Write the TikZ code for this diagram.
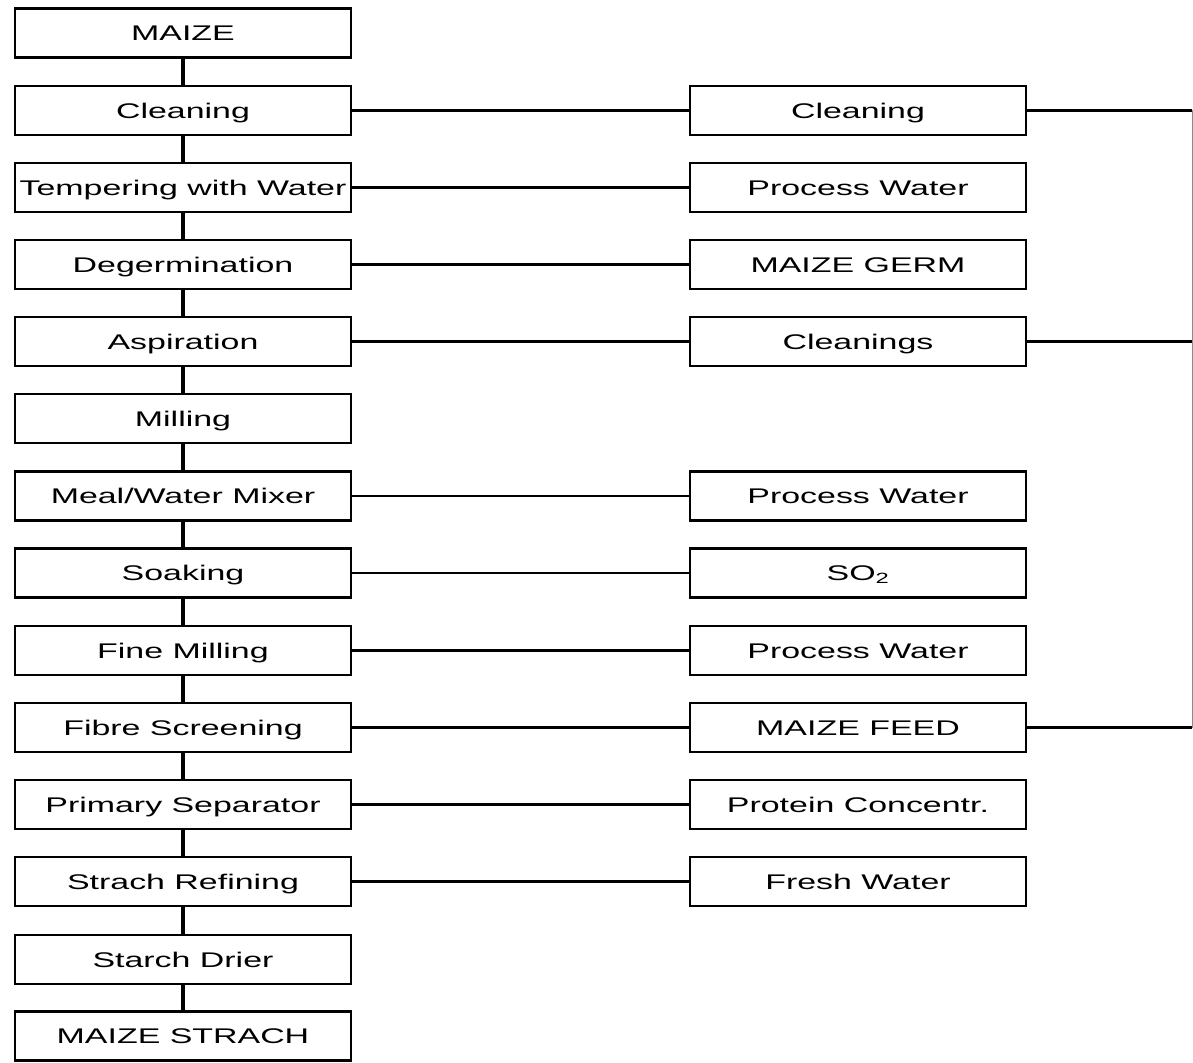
\documentclass[tikz,border=0pt]{standalone}
\usepackage{fontspec}
\setmainfont{Liberation Sans}[FakeStretch=1.6]
\begin{document}
\begin{tikzpicture}[x=1pt,y=-1pt,
  box/.style={draw, line width=2.5pt, minimum width=336pt, minimum height=49pt,
    inner sep=0pt, text height=15pt, text depth=0pt,
    font=\fontsize{21.2}{25}\selectfont, fill=white},
  flow/.style={line width=4.5pt},
  side/.style={line width=2.2pt},
  bracket/.style={line width=1pt, draw=black!45}]
\useasboundingbox (0,0) rectangle (1193,1062);
% left column
\node[box] (l1)  at (183,33)    {MAIZE};
\node[box] (l2)  at (183,110.5) {Cleaning};
\node[box] (l3)  at (183,187.5) {Tempering with Water};
\node[box] (l4)  at (183,264.5) {Degermination};
\node[box] (l5)  at (183,341.5) {Aspiration};
\node[box] (l6)  at (183,418.5) {Milling};
\node[box] (l7)  at (183,496)   {Meal/Water Mixer};
\node[box] (l8)  at (183,573)   {Soaking};
\node[box] (l9)  at (183,650.5) {Fine Milling};
\node[box] (l10) at (183,727.5) {Fibre Screening};
\node[box] (l11) at (183,804.5) {Primary Separator};
\node[box] (l12) at (183,881.5) {Strach Refining};
\node[box] (l13) at (183,959.5) {Starch Drier};
\node[box] (l14) at (183,1036)  {MAIZE STRACH};
% right column
\node[box] (r2)  at (858,110.5) {Cleaning};
\node[box] (r3)  at (858,187.5) {Process Water};
\node[box] (r4)  at (858,264.5) {MAIZE GERM};
\node[box] (r5)  at (858,341.5) {Cleanings};
\node[box] (r7)  at (858,496)   {Process Water};
\node[box] (r8)  at (858,573)   {SO\textsubscript{2}};
\node[box] (r9)  at (858,650.5) {Process Water};
\node[box] (r10) at (858,727.5) {MAIZE FEED};
\node[box] (r11) at (858,804.5) {Protein Concentr.};
\node[box] (r12) at (858,881.5) {Fresh Water};
% vertical flow
\foreach \a/\b in {l1/l2,l2/l3,l3/l4,l4/l5,l5/l6,l6/l7,l7/l8,l8/l9,l9/l10,l10/l11,l11/l12,l12/l13,l13/l14}
  \draw[flow] (\a.south) -- (\b.north);
% side connectors
\foreach \n in {2,3,4,5,7,8,9,10,11,12}
  \draw[side] (l\n.east) -- (r\n.west);
% bracket on the right
\coordinate (b1) at (1192,110.5);
\coordinate (b2) at (1192,341.5);
\coordinate (b3) at (1192,727.5);
\draw[bracket] (b1) -- (b3);
\draw[side] (r2.east) -- (b1);
\draw[side] (r5.east) -- (b2);
\draw[side] (r10.east) -- (b3);
\end{tikzpicture}
\end{document}
